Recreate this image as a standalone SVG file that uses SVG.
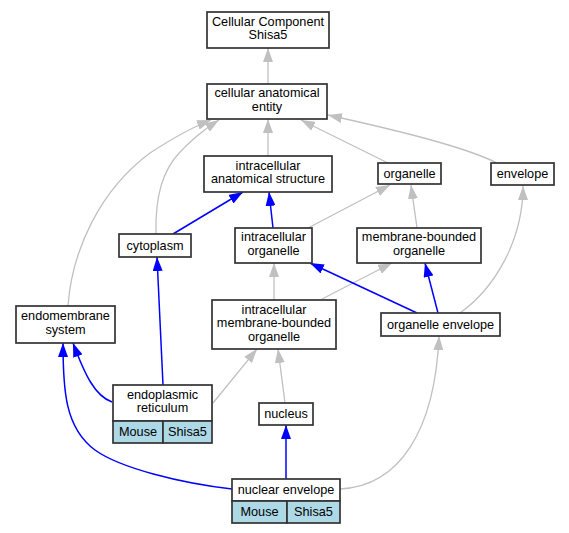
<svg xmlns="http://www.w3.org/2000/svg" width="569" height="533" viewBox="0 0 569 533">
<defs>
<style>
.n{fill:#fff;stroke:#333;stroke-width:1.7}
.c{fill:#add8e6;stroke:#333;stroke-width:1.7}
.l{fill:none;stroke:#333;stroke-width:1.7}
text{font-family:"Liberation Sans",Arial,sans-serif;font-size:12.7px;fill:#000;text-anchor:middle}
.g{fill:none;stroke:#c0c0c0;stroke-width:1.3;marker-end:url(#ag)}
.b{fill:none;stroke:#0000ff;stroke-width:1.5;marker-end:url(#ab)}
</style>
<marker id="ag" markerUnits="userSpaceOnUse" markerWidth="14" markerHeight="10" viewBox="0 0 14 10" refX="14" refY="5" orient="auto"><path d="M0,0 L14,5 L0,10 z" fill="#c0c0c0"/></marker>
<marker id="ab" markerUnits="userSpaceOnUse" markerWidth="14" markerHeight="10" viewBox="0 0 14 10" refX="14" refY="5" orient="auto"><path d="M0,0 L14,5 L0,10 z" fill="#0000ff"/></marker>
</defs>
<rect width="569" height="533" fill="#fff"/>
<g id="edges">
<path class="g" d="M268,84 L268,48"/>
<path class="g" d="M268,156 L268,119"/>
<path class="g" d="M388,163 L301,120"/>
<path class="g" d="M497,163 C465,147 400,131 328,115"/>
<path class="g" d="M156,234 C155,195 163,170 180,152 C190,142 200,132 219,120"/>
<path class="g" d="M68,306 C72,250 100,190 150,153 C170,140 190,128 211,120"/>
<path class="g" d="M308,228 L390,185"/>
<path class="g" d="M417,228 L411,185"/>
<path class="g" d="M460,313 C495,288 523,240 523,186"/>
<path class="g" d="M274,300 L274,263"/>
<path class="g" d="M322,299 L392,263"/>
<path class="g" d="M213,403 L257,349"/>
<path class="g" d="M285,403 L278,349"/>
<path class="g" d="M340,489 C400,486 435,430 439,336"/>
<path class="b" d="M173,234 L243,192"/>
<path class="b" d="M273,228 L269,192"/>
<path class="b" d="M417,313 L310,263"/>
<path class="b" d="M438,313 L425,263"/>
<path class="b" d="M163,385 L157,257"/>
<path class="b" d="M112,402 C95,396 85,375 73,343"/>
<path class="b" d="M232,489 C180,483 120,468 95,450 C65,428 63,390 63,343"/>
<path class="b" d="M286,479 L286,425"/>
</g>
<g id="cc"><rect class="n" x="207" y="12" width="122" height="36"/><text x="268" y="25.75">Cellular Component</text><text x="268" y="39.25">Shisa5</text></g>
<g id="cae"><rect class="n" x="207" y="84" width="120" height="35"/><text x="267" y="97.25">cellular anatomical</text><text x="267" y="110.75">entity</text></g>
<g id="ias"><rect class="n" x="204" y="156" width="128" height="36"/><text x="268" y="169.75">intracellular</text><text x="268" y="183.25">anatomical structure</text></g>
<g id="organelle"><rect class="n" x="378" y="163" width="63" height="21"/><text x="409.5" y="177.5">organelle</text></g>
<g id="envelope"><rect class="n" x="491" y="163" width="63" height="22"/><text x="522.5" y="178">envelope</text></g>
<g id="cytoplasm"><rect class="n" x="119" y="234" width="72" height="23"/><text x="155" y="249.5">cytoplasm</text></g>
<g id="io"><rect class="n" x="235" y="228" width="77" height="35"/><text x="273.5" y="241.25">intracellular</text><text x="273.5" y="254.75">organelle</text></g>
<g id="mbo"><rect class="n" x="357" y="228" width="124" height="35"/><text x="419" y="241.25">membrane-bounded</text><text x="419" y="254.75">organelle</text></g>
<g id="endomembrane"><rect class="n" x="16" y="306" width="99" height="37"/><text x="65.5" y="320.25">endomembrane</text><text x="65.5" y="333.75">system</text></g>
<g id="oe"><rect class="n" x="381" y="313" width="119" height="23"/><text x="440.5" y="328.5">organelle envelope</text></g>
<g id="imbo"><rect class="n" x="212" y="300" width="124" height="49"/><text x="274" y="313.5">intracellular</text><text x="274" y="327">membrane-bounded</text><text x="274" y="340.5">organelle</text></g>
<g id="nucleus"><rect class="n" x="259" y="403" width="54" height="22"/><text x="286" y="418">nucleus</text></g>
<g id="er"><rect class="n" x="113" y="385" width="99" height="36"/><rect class="c" x="113" y="421" width="50" height="22"/><rect class="c" x="163" y="421" width="49" height="22"/><text x="162.5" y="398.75">endoplasmic</text><text x="162.5" y="412.25">reticulum</text><text x="138" y="436">Mouse</text><text x="187.5" y="436">Shisa5</text></g>
<g id="ne"><rect class="n" x="232" y="479" width="108" height="22"/><rect class="c" x="232" y="501" width="55" height="22"/><rect class="c" x="287" y="501" width="53" height="22"/><text x="286" y="494">nuclear envelope</text><text x="259.5" y="516">Mouse</text><text x="313.5" y="516">Shisa5</text></g>
</svg>
